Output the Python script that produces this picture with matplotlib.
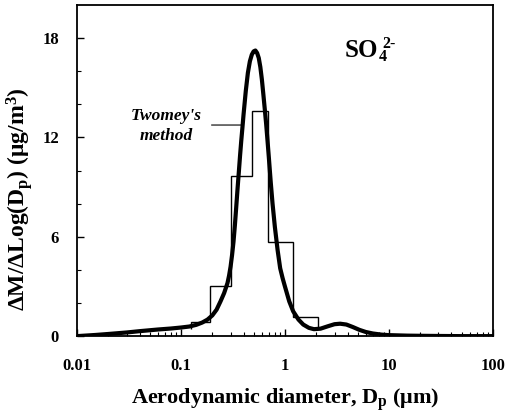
import matplotlib
matplotlib.use("Agg")
import matplotlib.pyplot as plt
from matplotlib.ticker import FixedLocator, LogLocator, NullFormatter

plt.rcParams['font.family'] = ['Liberation Serif', 'DejaVu Serif']
plt.rcParams['font.weight'] = 'bold'
plt.rcParams['mathtext.fontset'] = 'custom'
plt.rcParams['mathtext.rm'] = 'Liberation Serif:bold'
plt.rcParams['mathtext.it'] = 'Liberation Serif:italic:bold'
plt.rcParams['mathtext.bf'] = 'Liberation Serif:bold'

# Fitted (smooth) distribution
curve_d = [0.01, 0.015, 0.02, 0.03, 0.04, 0.06, 0.08, 0.1, 0.12, 0.14, 0.16, 0.18,
           0.2, 0.22, 0.24, 0.26, 0.28, 0.29, 0.30, 0.31, 0.32, 0.33, 0.34, 0.35,
           0.36, 0.37, 0.38, 0.39, 0.40, 0.42, 0.44, 0.46, 0.48, 0.50, 0.52, 0.54,
           0.56, 0.58, 0.60, 0.62, 0.64, 0.66, 0.68, 0.70, 0.73, 0.76, 0.80, 0.85,
           0.90, 0.95, 1.0, 1.1, 1.2, 1.35, 1.5, 1.7, 1.9, 2.2, 2.6, 3.0, 3.4, 3.9,
           4.5, 5.2, 6.0, 7.0, 8.5, 10, 15, 20, 30, 50, 100]
curve_v = [0.0, 0.07, 0.13, 0.22, 0.30, 0.40, 0.46, 0.52, 0.58, 0.68, 0.82, 1.0,
           1.25, 1.6, 2.1, 2.6, 3.2, 3.65, 4.2, 4.9, 5.7, 6.7, 7.8, 8.9,
           9.9, 10.9, 11.8, 12.6, 13.4, 14.8, 15.9, 16.6, 17.0, 17.2, 17.25, 17.1,
           16.8, 16.25, 15.5, 14.6, 13.7, 12.8, 11.8, 10.8, 9.3, 8.0, 6.6, 5.2,
           4.1, 3.5, 3.0, 2.1, 1.5, 1.0, 0.7, 0.5, 0.42, 0.45, 0.6, 0.72, 0.75, 0.7,
           0.55, 0.38, 0.25, 0.16, 0.09, 0.06, 0.03, 0.02, 0.01, 0.0, 0.0]

# Twomey's method histogram
hist_edges = [0.125, 0.19, 0.30, 0.48, 0.68, 1.19, 2.1]
hist_values = [0.83, 3.0, 9.7, 13.6, 5.7, 1.17]

x_ticks = [0.01, 0.1, 1, 10, 100]
x_tick_labels = ['0.01', '0.1', '1', '10', '100']
y_ticks = [0, 6, 12, 18]
y_minor_ticks = [2, 4, 8, 10, 14, 16]

fig = plt.figure(figsize=(5.07, 4.16), dpi=100)
ax = fig.add_axes([0.152, 0.192, 0.820, 0.796])

ax.stairs(hist_values, hist_edges, baseline=0.45, color='black', linewidth=1.0)
ax.plot(curve_d, curve_v, color='black', linewidth=3.0, solid_capstyle='round',
        solid_joinstyle='round')

ax.set_xscale('log')
ax.set_xlim(0.01, 100)
ax.set_ylim(0, 20)
ax.set_xticks(x_ticks)
ax.set_xticklabels(x_tick_labels)
ax.xaxis.set_minor_locator(LogLocator(base=10, subs=range(2, 10)))
ax.xaxis.set_minor_formatter(NullFormatter())
ax.set_yticks(y_ticks)
ax.yaxis.set_minor_locator(FixedLocator(y_minor_ticks))

ax.tick_params(which='both', direction='in', labelsize=12)
ax.tick_params(which='major', length=5, width=1)
ax.tick_params(which='minor', length=3, width=0.8)
ax.tick_params(axis='x', pad=16)
ax.tick_params(axis='y', pad=13)
for lab in ax.get_xticklabels() + ax.get_yticklabels():
    lab.set_fontweight('bold')
for s in ax.spines.values():
    s.set_linewidth(1.3)

ax.set_xlabel(r'Aerodynamic diameter, D$_\mathregular{p}$ ($\mathregular{\mu}$m)',
              fontsize=16, fontweight='bold', labelpad=9)
ax.set_ylabel(r'$\mathregular{\Delta}$M/$\mathregular{\Delta}$Log(D$_\mathregular{p}$) ($\mathregular{\mu}$g/m$^\mathregular{3}$)',
              fontsize=17, fontweight='bold')
ax.yaxis.set_label_coords(-0.100, 0.414)

so = ax.text(0.644, 0.844, 'SO', transform=ax.transAxes,
             fontsize=18, fontweight='bold', ha='left', va='baseline')
ax.annotate('4', xy=(1, 0), xycoords=so, xytext=(0.3, 3.0), textcoords='offset points',
            fontsize=11.5, fontweight='bold', ha='left', va='center')
ax.annotate('2-', xy=(1, 1), xycoords=so, xytext=(3.0, -3.6), textcoords='offset points',
            fontsize=11.5, fontweight='bold', ha='left', va='center')

ax.text(0.215, 0.634, "Twomey's\nmethod", transform=ax.transAxes, fontsize=12.5,
        fontstyle='italic', fontweight='bold', ha='center', va='center', linespacing=1.3)
ax.annotate('', xy=(0.40, 12.75), xytext=(0.185, 12.75),
            arrowprops=dict(arrowstyle='-', color='black', lw=0.8))

fig.savefig('out.png', dpi=100)
